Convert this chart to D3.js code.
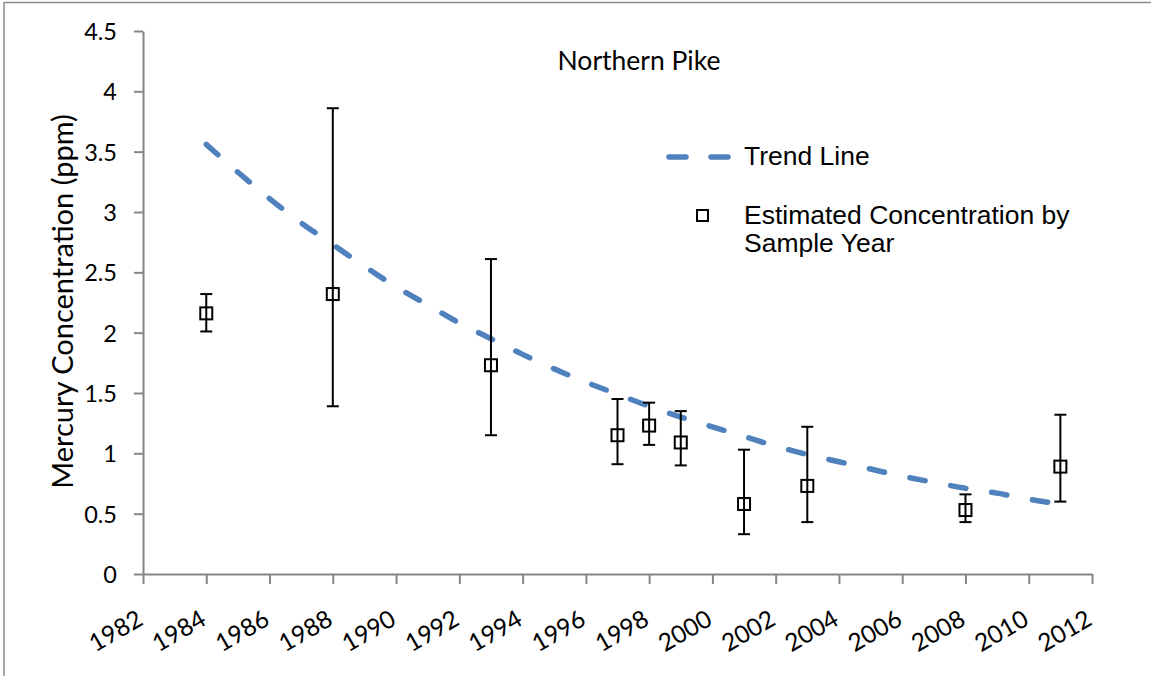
<!DOCTYPE html>
<html>
<head>
<meta charset="utf-8">
<script src="https://cdn.jsdelivr.net/npm/d3@7/dist/d3.min.js"></script>
<style>
  html, body { margin: 0; padding: 0; background: #fff; }
  svg { display: block; }
</style>
</head>
<body>
<svg id="chart" width="1151" height="676"></svg>
<script>
// ---- data ----
const years = [1984, 1988, 1993, 1997, 1998, 1999, 2001, 2003, 2008, 2011];
const estimates = [2.16, 2.32, 1.73, 1.15, 1.23, 1.09, 0.58, 0.73, 0.53, 0.89];
const lowerCI = [2.01, 1.39, 1.15, 0.91, 1.07, 0.90, 0.33, 0.43, 0.43, 0.60];
const upperCI = [2.32, 3.86, 2.61, 1.45, 1.42, 1.35, 1.03, 1.22, 0.66, 1.32];

const trendYears = [1984, 1985, 1986, 1987, 1988, 1989, 1990, 1991, 1992, 1993, 1994, 1995, 1996, 1997,
                    1998, 1999, 2000, 2001, 2002, 2003, 2004, 2005, 2006, 2007, 2008, 2009, 2010, 2011];
const trendValues = [3.56, 3.33, 3.11, 2.91, 2.73, 2.55, 2.38, 2.23, 2.08, 1.95, 1.82, 1.70, 1.59, 1.49,
                     1.39, 1.30, 1.22, 1.14, 1.06, 0.99, 0.93, 0.87, 0.81, 0.76, 0.71, 0.67, 0.62, 0.58];

const xTickLabels = [1982, 1984, 1986, 1988, 1990, 1992, 1994, 1996, 1998, 2000, 2002, 2004, 2006, 2008, 2010, 2012];
const yTickLabels = [0, 0.5, 1, 1.5, 2, 2.5, 3, 3.5, 4, 4.5];

const title = "Northern Pike";
const yTitle = "Mercury Concentration (ppm)";
const legendTrend = "Trend Line";
const legendPoints = ["Estimated Concentration by", "Sample Year"];

// ---- drawing ----
const svg = d3.select("#chart");
const axisColor = "#868686";
const trendColor = "#4F81BD";
const calibriLike = "Lato, 'Open Sans', sans-serif";
const arialLike = "'Liberation Sans', Arial, sans-serif";

// outer frame (only top and left edges visible)
svg.append("path")
  .attr("d", "M4,676 L4,2.5 L1151,2.5")
  .attr("fill", "none").attr("stroke", "#8c8c8c").attr("stroke-width", 1.5);

const x = d3.scaleLinear().domain([1982, 2012]).range([143, 1092]);
const y = d3.scaleLinear().domain([0, 4.5]).range([574, 31]);

// y axis
const yAxis = svg.append("g").attr("transform", "translate(143,0)")
  .call(d3.axisLeft(y).tickValues(yTickLabels).tickSize(9).tickSizeOuter(0).tickPadding(17)
        .tickFormat(d => String(d)));
yAxis.select(".domain").attr("stroke", axisColor).attr("stroke-width", 2);
yAxis.selectAll(".tick line").attr("stroke", axisColor).attr("stroke-width", 2);
yAxis.selectAll(".tick text").attr("font-family", calibriLike).attr("font-size", 23.5)
  .attr("fill", "#000").attr("dy", "0.36em");

// x axis
const xAxis = svg.append("g").attr("transform", "translate(0,574)")
  .call(d3.axisBottom(x).tickValues(xTickLabels).tickSize(10).tickSizeOuter(0).tickFormat(d => String(d)));
xAxis.select(".domain").attr("stroke", axisColor).attr("stroke-width", 2);
xAxis.selectAll(".tick line").attr("stroke", axisColor).attr("stroke-width", 2);
xAxis.selectAll(".tick text")
  .attr("font-family", calibriLike).attr("font-size", 24.5).attr("fill", "#000")
  .attr("text-anchor", "end")
  .attr("y", 0).attr("dy", 0)
  .attr("transform", "translate(1,50) rotate(-30)");

// title
svg.append("text").attr("x", 639).attr("y", 70).attr("text-anchor", "middle")
  .attr("font-family", calibriLike).attr("font-size", 26.5).attr("fill", "#000").text(title);

// y title
svg.append("text").attr("transform", "translate(73,301.5) rotate(-90)").attr("text-anchor", "middle")
  .attr("font-family", calibriLike).attr("font-size", 29).attr("fill", "#000").text(yTitle);

// trend line
const trendData = trendYears.map((yr, i) => [yr, trendValues[i]]);
svg.append("path").datum(trendData)
  .attr("d", d3.line().x(d => x(d[0])).y(d => y(d[1])).curve(d3.curveMonotoneX))
  .attr("fill", "none").attr("stroke", trendColor).attr("stroke-width", 5.5)
  .attr("stroke-linecap", "round").attr("stroke-dasharray", "15.5,26");

// points
const pts = years.map((yr, i) => ({ yr, v: estimates[i], lo: lowerCI[i], hi: upperCI[i] }));
const ptG = svg.append("g");
const sq = 12;
ptG.selectAll("rect.m").data(pts).join("rect").attr("class", "m")
  .attr("x", d => x(d.yr) - sq / 2).attr("y", d => y(d.v) - sq / 2)
  .attr("width", sq).attr("height", sq)
  .attr("fill", "none").attr("stroke", "#000").attr("stroke-width", 2);
ptG.selectAll("line.eb").data(pts).join("line").attr("class", "eb")
  .attr("x1", d => x(d.yr)).attr("x2", d => x(d.yr))
  .attr("y1", d => y(d.lo)).attr("y2", d => y(d.hi))
  .attr("stroke", "#000").attr("stroke-width", 2);
ptG.selectAll("line.capHi").data(pts).join("line").attr("class", "capHi")
  .attr("x1", d => x(d.yr) - 6).attr("x2", d => x(d.yr) + 6)
  .attr("y1", d => y(d.hi)).attr("y2", d => y(d.hi))
  .attr("stroke", "#000").attr("stroke-width", 2);
ptG.selectAll("line.capLo").data(pts).join("line").attr("class", "capLo")
  .attr("x1", d => x(d.yr) - 6).attr("x2", d => x(d.yr) + 6)
  .attr("y1", d => y(d.lo)).attr("y2", d => y(d.lo))
  .attr("stroke", "#000").attr("stroke-width", 2);

// legend
const lg = svg.append("g");
lg.append("line").attr("x1", 669).attr("x2", 731).attr("y1", 157).attr("y2", 157)
  .attr("stroke", trendColor).attr("stroke-width", 5.5).attr("stroke-linecap", "round")
  .attr("stroke-dasharray", "17,25");
lg.append("text").attr("x", 744).attr("y", 165).attr("font-family", arialLike).attr("font-size", 26.5)
  .attr("fill", "#000").text(legendTrend);
lg.append("rect").attr("x", 697).attr("y", 210).attr("width", 11).attr("height", 11)
  .attr("fill", "none").attr("stroke", "#000").attr("stroke-width", 2);
lg.append("text").attr("x", 744).attr("y", 224).attr("font-family", arialLike).attr("font-size", 26.5)
  .attr("fill", "#000").text(legendPoints[0]);
lg.append("text").attr("x", 744).attr("y", 252).attr("font-family", arialLike).attr("font-size", 26.5)
  .attr("fill", "#000").text(legendPoints[1]);
</script>
</body>
</html>
